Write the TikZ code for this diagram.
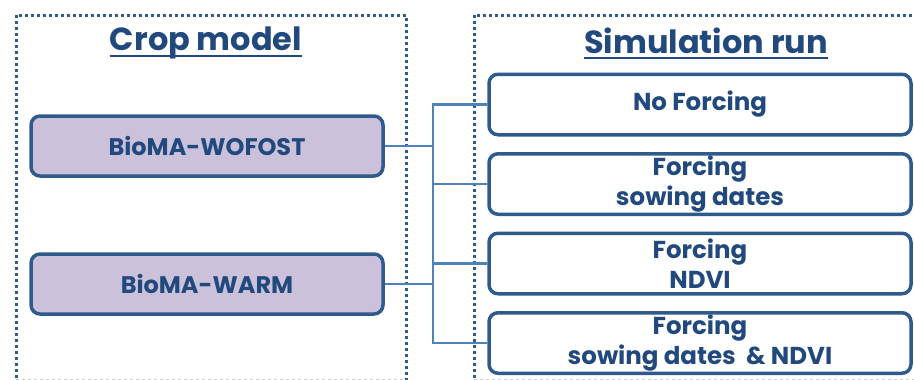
\documentclass[tikz,border=0pt]{standalone}
\usepackage{fontspec}
\setmainfont{Poppins}
\usepackage{xcolor}
\usetikzlibrary{positioning}

\definecolor{txtblue}{HTML}{21497D}
\definecolor{lineblue}{HTML}{2E5A8C}
\definecolor{connblue}{HTML}{4F81BD}
\definecolor{lavender}{HTML}{CCC1DA}

\tikzset{
  frame/.style={lineblue, line width=3pt, dash pattern=on 3pt off 3pt},
  title/.style={inner sep=0pt, anchor=base, text=txtblue, font=\fontsize{32}{36}\selectfont\bfseries},
  model/.style={draw=lineblue, line width=3.5pt, rounded corners=9pt, fill=lavender,
    minimum width=352pt, minimum height=60pt, text=txtblue, font=\fontsize{24}{28}\selectfont\bfseries},
  run/.style={draw=lineblue, line width=3.5pt, rounded corners=9pt, fill=white, align=center,
    minimum width=422pt, minimum height=60.5pt, inner sep=0pt, text=txtblue,
    font=\fontsize{24.5}{30}\selectfont\bfseries},
  conn/.style={connblue, line width=2.6pt}
}

\begin{document}
\begin{tikzpicture}[x=1pt, y=-1pt]
	\clip (0,0) rectangle (914,380);

	% dotted frames
	\draw [frame] (16,384) -- (16,15) -- (406,15) -- (406,384);
	\draw [frame] (474,384) -- (474,15) -- (920,15);
	\draw [gray!40, dashed, line width=0.8pt] (16,379) -- (406,379);
	\draw [gray!40, dashed, line width=0.8pt] (474,379) -- (914,379);

	% titles
	\node [title] (cm) at (206,50) {Crop model};
	\draw [txtblue, line width=1.8pt] ([yshift=-6pt]cm.base west) -- ([yshift=-6pt]cm.base east);
	\node [title] (sr) at (706,53) {Simulation run};
	\draw [txtblue, line width=1.8pt] ([yshift=-5pt]sr.base west) -- ([yshift=-5pt]sr.base east);

	% crop models
	\node [model] (wofost) at (207,146) {BioMA-WOFOST};
	\node [model] (warm) at (207,284) {BioMA-WARM};

	% simulation runs
	\node [run] (nofor) at (700,104.5) {No Forcing};
	\node [run, below = 15.5pt of nofor] (sowing) {Forcing\\sowing dates};
	\node [run, below = 15.5pt of sowing] (ndvi) {Forcing\\NDVI};
	\node [run, below = 15.5pt of ndvi] (both) {Forcing\\sowing dates~~\&~NDVI};

	% connectors
	\coordinate (bus) at (433,0);
	\draw [conn] (nofor.west) -- (nofor.west -| bus) -- (both.west -| bus) -- (both.west);
	\draw [conn] (sowing.west) -- (sowing.west -| bus);
	\draw [conn] (ndvi.west) -- (ndvi.west -| bus);
	\draw [conn] (wofost.east) -- (wofost.east -| bus);
	\draw [conn] (warm.east) -- (warm.east -| bus);
\end{tikzpicture}
\end{document}
